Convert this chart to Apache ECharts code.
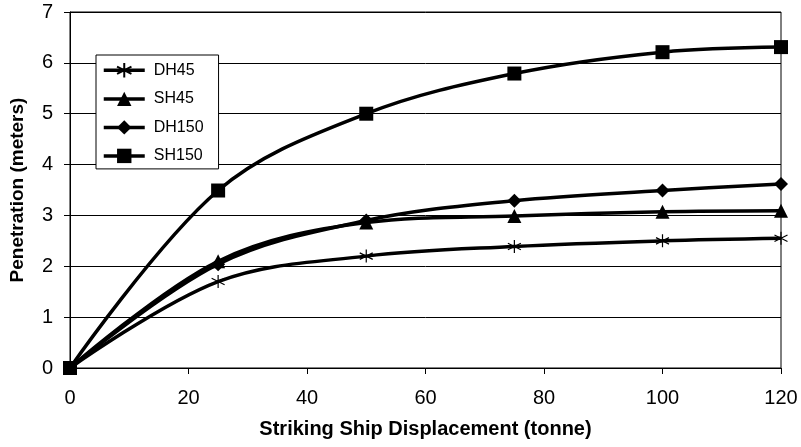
<!DOCTYPE html>
<html>
<head>
<meta charset="utf-8">
<script src="https://cdn.jsdelivr.net/npm/echarts@6/dist/echarts.min.js"></script>
<style>html,body{margin:0;padding:0;background:#fff}#c{width:801px;height:447px}</style>
</head>
<body>
<div id="c"></div>
<script>
var displacement = [0, 25, 50, 75, 100, 120];
var seriesNames = ['DH45', 'SH45', 'DH150', 'SH150'];
var DH45 = [0, 1.70, 2.20, 2.39, 2.50, 2.55];
var SH45 = [0, 2.10, 2.86, 2.99, 3.07, 3.09];
var DH150 = [0, 2.04, 2.90, 3.29, 3.49, 3.62];
var SH150 = [0, 3.49, 5.00, 5.79, 6.21, 6.31];
var xTicks = [0, 20, 40, 60, 80, 100, 120];
var yTicks = [0, 1, 2, 3, 4, 5, 6, 7];

var FONT = '"Liberation Sans", Arial, sans-serif';
var asterisk = 'path://M0,0 L0,14 M-6.1,3.5 L6.1,10.5 M-6.1,10.5 L6.1,3.5';

function pairs(vals) {
  return displacement.map(function (x, i) { return [x, vals[i]]; });
}
function mk(name, vals, symbol, size, hollow) {
  return {
    name: name,
    type: 'line',
    data: pairs(vals),
    smooth: 0.35,
    symbol: symbol,
    symbolSize: size,
    showAllSymbol: true,
    lineStyle: { color: '#000', width: 3.5 },
    itemStyle: hollow ? { color: 'rgba(0,0,0,0)', borderColor: '#000', borderWidth: 1.2 } : { color: '#000', borderWidth: 0 },
    emphasis: { disabled: true },
    animation: false
  };
}

var chart = echarts.init(document.getElementById('c'), null, { renderer: 'canvas' });
chart.setOption({
  backgroundColor: '#fff',
  textStyle: { fontFamily: FONT },
  grid: { left: 67, right: 20, top: 12, bottom: 79, show: true, borderColor: '#000', borderWidth: 1, containLabel: false },
  legend: {
    orient: 'vertical',
    left: 96, top: 55,
    padding: [7, 15, 5, 6],
    backgroundColor: '#fff',
    borderColor: '#000', borderWidth: 1, borderRadius: 0,
    itemWidth: 41, itemHeight: 18, itemGap: 12.5,
    lineStyle: { width: 3.5, color: '#000' },
    data: seriesNames,
    textStyle: { fontFamily: FONT, fontSize: 16, color: '#000', lineHeight: 16, padding: [0, 0, 0, 4] }
  },
  xAxis: {
    type: 'value', min: xTicks[0], max: xTicks[xTicks.length - 1], interval: 20,
    name: 'Striking Ship Displacement (tonne)', nameLocation: 'middle', nameGap: 51,
    nameTextStyle: { fontFamily: FONT, fontSize: 20, fontWeight: 'bold', color: '#000' },
    axisLine: { show: true, lineStyle: { color: '#000', width: 1 } },
    axisTick: { show: true, inside: false, length: 6, lineStyle: { color: '#000' } },
    axisLabel: { fontFamily: FONT, fontSize: 20, color: '#000', margin: 20 },
    splitLine: { show: false }
  },
  yAxis: {
    type: 'value', min: yTicks[0], max: yTicks[yTicks.length - 1], interval: 1,
    name: 'Penetration (meters)', nameLocation: 'middle', nameGap: 43,
    nameTextStyle: { fontFamily: FONT, fontSize: 19, fontWeight: 'bold', color: '#000' },
    axisLine: { show: true, lineStyle: { color: '#000', width: 1 } },
    axisTick: { show: true, inside: false, length: 6, lineStyle: { color: '#000' } },
    axisLabel: { fontFamily: FONT, fontSize: 20, color: '#000', margin: 17 },
    splitLine: { show: true, lineStyle: { color: '#000', width: 1 } }
  },
  series: [
    mk('DH45', DH45, asterisk, 13, true),
    mk('SH45', SH45, 'triangle', 14, false),
    mk('DH150', DH150, 'diamond', 14, false),
    mk('SH150', SH150, 'rect', 14, false)
  ]
});
</script>
</body>
</html>
